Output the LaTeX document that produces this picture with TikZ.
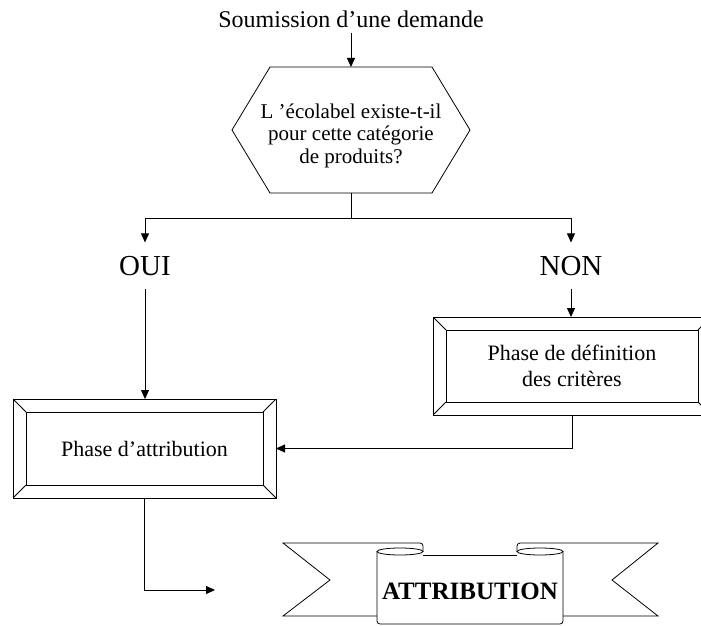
\documentclass[tikz,border=0pt]{standalone}
\usepackage{fontspec}
\setmainfont{Liberation Serif}
\usetikzlibrary{arrows.meta}
\def\fsize#1#2{\fontsize{#1}{#2}\selectfont}

\begin{document}
\begin{tikzpicture}[x=1pt,y=-1pt,>={Triangle[length=9pt,width=8pt]},line width=0.8pt,
  bevel/.style={draw,inner sep=0pt,outer sep=0pt,align=center,font=\fsize{22}{26},
    path picture={
      \draw ([shift={(13pt,-13pt)}]path picture bounding box.north west) rectangle ([shift={(-13pt,13pt)}]path picture bounding box.south east);
      \draw (path picture bounding box.north west) -- ++(13pt,-13pt);
      \draw (path picture bounding box.north east) -- ++(-13pt,-13pt);
      \draw (path picture bounding box.south west) -- ++(13pt,13pt);
      \draw (path picture bounding box.south east) -- ++(-13pt,13pt);
    }},
  answer/.style={font=\fsize{29}{33},inner xsep=2pt,inner ysep=13pt,anchor=base}]
	\useasboundingbox (0,0) rectangle (701,626);
	\node [font=\fsize{24}{28},inner sep=4pt,anchor=base] at (351,28) (title) {Soumission d’une demande};
	\node [minimum width=238pt,minimum height=126pt,inner sep=0pt,outer sep=0pt] at (351,130) (quest) {};
	\draw (quest.west) -- ([xshift=38pt]quest.north west) -- ([xshift=-38pt]quest.north east) -- (quest.east)
	  -- ([xshift=-38pt]quest.south east) -- ([xshift=38pt]quest.south west) -- cycle;
	\node [align=center,font=\fsize{21}{22.5}] at (351,135.5) (questtext) {L ’écolabel existe-t-il\\pour cette catégorie\\de produits?};
	\node [answer] at (145,275) (oui) {OUI};
	\node [answer] at (571,275) (non) {NON};
	\node [bevel,minimum width=278pt,minimum height=98pt] at (572,366) (crit) {Phase de définition\\des critères};
	\node [bevel,minimum width=263pt,minimum height=99pt] at (144.5,448.5) (attr) {Phase d’attribution};
	\node [font=\fsize{25}{30}\bfseries,inner sep=0pt,anchor=base] at (470,599) (banner) {ATTRIBUTION};
	\coordinate (split) at (351,218);
	\coordinate (endpt) at (215,590);
	\draw [->] (title.south) -- (quest.north);
	\draw (quest.south) -- (split);
	\draw [->] (split) -| (oui.north);
	\draw [->] (split) -| (non.north);
	\draw [->] (oui.south) -- (oui.south |- attr.north);
	\draw [->] (non.south) -- (non.south |- crit.north);
	\draw [->] (crit.south) |- (attr.east);
	\draw [->] (attr.south) |- (endpt);
	\draw (377,616) -- (283,616) -- (330,580) -- (283,543) -- (420,543) arc[start angle=90,end angle=0,radius=3pt] -- (423,551.5);
	\draw (563,616) -- (658,616) -- (612,580) -- (658,543) -- (520,543) arc[start angle=90,end angle=180,radius=3pt] -- (517,551.5);
	\draw (400,551.5) ellipse [x radius=23pt,y radius=3.5pt];
	\draw (540,551.5) ellipse [x radius=23pt,y radius=3.5pt];
	\draw (423,555) -- (517,555);
	\draw (377,551.5) -- (377,621) arc[start angle=180,end angle=270,radius=3pt] -- (560,624) arc[start angle=270,end angle=360,radius=3pt] -- (563,551.5);
\end{tikzpicture}
\end{document}
